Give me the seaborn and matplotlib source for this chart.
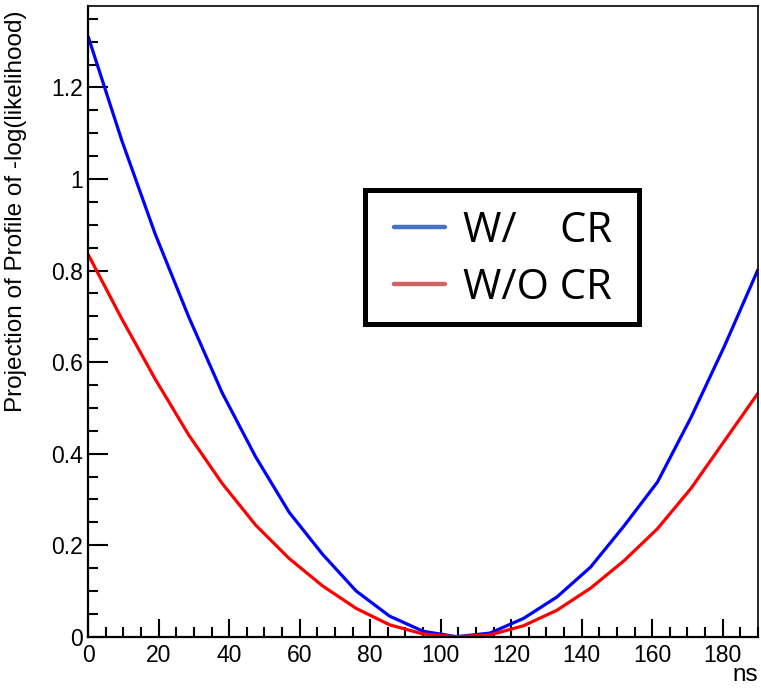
import matplotlib
matplotlib.use("Agg")
import matplotlib.pyplot as plt
import seaborn as sns
import pandas as pd
from matplotlib.lines import Line2D
from matplotlib.patches import Rectangle
from matplotlib.ticker import MultipleLocator

# ---- data ----
ns_values = [0, 9.5, 19, 28.5, 38, 47.5, 57, 66.5, 76, 85.5, 95,
             104.5, 114, 123.5, 133, 142.5, 152, 161.5, 171, 180.5, 190]
with_cr = [1.311, 1.085, 0.880, 0.699, 0.533, 0.393, 0.272, 0.180, 0.100, 0.045, 0.012,
           0.000, 0.008, 0.040, 0.087, 0.152, 0.242, 0.338, 0.479, 0.635, 0.802]
without_cr = [0.835, 0.695, 0.563, 0.441, 0.335, 0.244, 0.171, 0.111, 0.062, 0.026, 0.006,
              0.000, 0.004, 0.024, 0.058, 0.106, 0.166, 0.236, 0.324, 0.428, 0.532]
series_names = ["W/    CR", "W/O CR"]
x_ticks = [0, 20, 40, 60, 80, 100, 120, 140, 160, 180]
y_ticks = [0, 0.2, 0.4, 0.6, 0.8, 1.0, 1.2]
y_tick_labels = ["0", "0.2", "0.4", "0.6", "0.8", "1", "1.2"]
x_label = "ns"
y_label = "Projection of Profile of -log(likelihood)"

df = pd.DataFrame({
    "ns": ns_values * 2,
    "nll": with_cr + without_cr,
    "series": [series_names[0]] * len(ns_values) + [series_names[1]] * len(ns_values),
})

sns.set_style("white")
plt.rcParams["font.family"] = ["Liberation Sans", "DejaVu Sans"]
plt.rcParams["text.color"] = "black"
plt.rcParams["axes.labelcolor"] = "black"

W, H = 761, 693
fig = plt.figure(figsize=(W / 100, H / 100), dpi=100)
ax = fig.add_axes([0.1159, 0.0812, 0.8801, 0.9101])

sns.lineplot(data=df, x="ns", y="nll", hue="series",
             palette={series_names[0]: "#0000FF", series_names[1]: "#FF0000"},
             linewidth=2.3, legend=False, ax=ax, sort=False)

ax.set_xlim(0, 190)
ax.set_ylim(0, 1.378)
ax.set_xticks(x_ticks)
ax.set_xticklabels([str(t) for t in x_ticks])
ax.set_yticks(y_ticks)
ax.set_yticklabels(y_tick_labels)
ax.xaxis.set_minor_locator(MultipleLocator(5))
ax.yaxis.set_minor_locator(MultipleLocator(0.05))

ax.tick_params(axis="both", which="both", direction="in", colors="black",
               width=1.5, labelsize=16.5, bottom=True, left=True,
               top=False, right=False)
ax.tick_params(axis="y", which="major", length=14.5, pad=3.5)
ax.tick_params(axis="y", which="minor", length=7.5)
ax.tick_params(axis="x", which="major", length=13, pad=5)
ax.tick_params(axis="x", which="minor", length=7)

for side in ["left", "bottom"]:
    ax.spines[side].set_linewidth(1.6)
for side in ["top", "right"]:
    ax.spines[side].set_linewidth(1.2)
for s in ax.spines.values():
    s.set_color("black")
    s.set_visible(True)

ax.set_xlabel(x_label, fontsize=17.5, loc="right")
ax.xaxis.set_label_coords(1.0, -0.043)
ax.set_ylabel(y_label, fontsize=17.5, loc="top")
ax.yaxis.set_label_coords(-0.092, 0.993)

# legend frame (thick black box), placed in figure pixels
bx0, by0, bx1, by1 = 365.2, 189.8, 638.5, 324.2
fig.add_artist(Rectangle((bx0 / W, 1 - by1 / H), (bx1 - bx0) / W, (by1 - by0) / H,
                         transform=fig.transFigure, facecolor="white",
                         edgecolor="black", linewidth=3.6, zorder=5))

handles = [Line2D([], [], color="#4472C4", linewidth=3.2),
           Line2D([], [], color="#D06464", linewidth=3.2)]
leg = fig.legend(handles, series_names, loc="upper left",
                 bbox_to_anchor=(394 / W, 1 - 210 / H),
                 prop={"family": ["Open Sans", "DejaVu Sans"], "size": 30},
                 frameon=False, handlelength=1.22, handletextpad=0.43,
                 borderpad=0, labelspacing=0.35, borderaxespad=0)
leg.set_zorder(6)
for t in leg.get_texts():
    t.set_color("black")

fig.savefig("out.png", dpi=100)
